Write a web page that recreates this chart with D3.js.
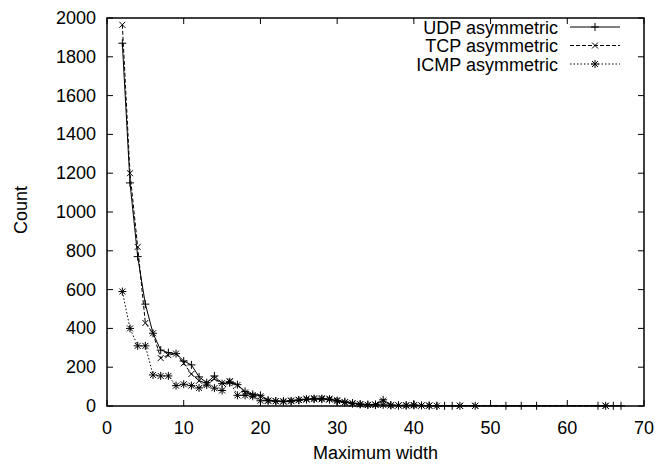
<!DOCTYPE html>
<html><head><meta charset="utf-8">
<script src="https://cdn.jsdelivr.net/npm/d3@7"></script>
<style>
body{margin:0;background:#fff;}
text{font-family:"Liberation Sans",Arial,Helvetica,sans-serif;}
</style></head>
<body><svg id="c" width="656" height="464"></svg>
<script>
const xTicks=[0,10,20,30,40,50,60,70];
const yTicks=[0,200,400,600,800,1000,1200,1400,1600,1800,2000];
const seriesNames=["UDP asymmetric","TCP asymmetric","ICMP asymmetric"];
const udpX=[2,3,4,5,6,7,8,9,10,11,12,13,14,15,16,17,18,19,20,21,22,23,24,25,26,27,28,29,30,31,32,33,34,35,36,37,38,39,40,42,43,44,45,52,54,56,64,66,67];
const udpY=[1870,1150,770,525,375,288,275,270,232,212,150,120,155,115,120,110,75,60,55,30,25,25,25,30,35,38,38,35,28,22,15,10,8,8,32,5,3,2,4,2,1,1,1,1,1,1,1,1,1];
const tcpX=[2,3,4,5,6,7,8,9,10,11,12,13,14,15,16,17,18,19,20,21,22,23,24,25,26,27,28,29,30,31,32,33,34,35,36,37,38,39,40,41,42,46,48,65];
const tcpY=[1965,1200,820,428,375,247,262,270,220,165,130,118,140,118,128,108,70,57,50,28,25,25,28,32,38,40,40,38,30,20,15,10,6,8,28,4,3,2,3,2,2,1,1,1];
const icmpX=[2,3,4,5,6,7,8,9,10,11,12,13,14,15,16,17,18,19,20,21,22,23,24,25,26,27,28,29,30,31,32,33,34,35,36,37,38,39,40,41,42,43,46,48,65];
const icmpY=[590,400,310,310,160,155,155,105,112,105,93,108,92,80,125,55,55,50,27,27,25,22,25,30,33,35,35,33,25,18,12,8,5,5,6,3,3,4,5,3,2,1,1,1,1];

const svg=d3.select("#c");
const L=107,R=644,T=18,B=406;
const x=d3.scaleLinear().domain([0,70]).range([L,R]);
const y=d3.scaleLinear().domain([0,2000]).range([B,T]);
const fs=18;

// ticks (inward, mirrored)
const tl=6;
const g=svg.append("g").attr("stroke","#000").attr("stroke-width",1);
xTicks.forEach(t=>{
  g.append("line").attr("x1",x(t)).attr("x2",x(t)).attr("y1",B).attr("y2",B-tl);
  g.append("line").attr("x1",x(t)).attr("x2",x(t)).attr("y1",T).attr("y2",T+tl);
});
yTicks.forEach(t=>{
  g.append("line").attr("x1",L).attr("x2",L+tl).attr("y1",y(t)).attr("y2",y(t));
  g.append("line").attr("x1",R).attr("x2",R-tl).attr("y1",y(t)).attr("y2",y(t));
});
// tick labels
svg.append("g").selectAll("text").data(xTicks).join("text")
  .attr("x",d=>x(d)).attr("y",434).attr("text-anchor","middle").attr("font-size",fs).text(d=>d);
svg.append("g").selectAll("text").data(yTicks).join("text")
  .attr("x",96).attr("y",d=>y(d)+6).attr("text-anchor","end").attr("font-size",fs).text(d=>d);
// axis labels
svg.append("text").attr("x",(L+R)/2).attr("y",459).attr("text-anchor","middle").attr("font-size",fs).text("Maximum width");
svg.append("text").attr("transform","translate(27,210) rotate(-90)").attr("text-anchor","middle").attr("font-size",fs).text("Count");

// markers
function marker(sel,type,cx,cy){
  const s=4;
  const p=sel.append("g").attr("stroke","#000").attr("stroke-width",1).attr("fill","none");
  if(type===0||type===2){
    p.append("line").attr("x1",cx-s).attr("x2",cx+s).attr("y1",cy).attr("y2",cy);
    p.append("line").attr("x1",cx).attr("x2",cx).attr("y1",cy-s).attr("y2",cy+s);
  }
  if(type===1||type===2){
    const d=3;
    p.append("line").attr("x1",cx-d).attr("x2",cx+d).attr("y1",cy-d).attr("y2",cy+d);
    p.append("line").attr("x1",cx-d).attr("x2",cx+d).attr("y1",cy+d).attr("y2",cy-d);
  }
}
const dashes=[null,"4,2","1.5,2"];
const series=[[udpX,udpY],[tcpX,tcpY],[icmpX,icmpY]];
const line=d3.line().x(d=>x(d[0])).y(d=>y(d[1]));
[2,1,0].forEach(i=>{
  const [xs,ys]=series[i];
  const pts=xs.map((v,k)=>[v,ys[k]]);
  svg.append("path").datum(pts).attr("d",line).attr("fill","none").attr("stroke","#000")
    .attr("stroke-width",1).attr("stroke-dasharray",dashes[i]);
  const mg=svg.append("g");
  pts.forEach(p=>marker(mg,i,x(p[0]),y(p[1])));
});

// legend
seriesNames.forEach((n,i)=>{
  const cy=27+i*18.5;
  svg.append("text").attr("x",558).attr("y",cy+6.5).attr("text-anchor","end").attr("font-size",fs).text(n);
  svg.append("line").attr("x1",570).attr("x2",620).attr("y1",cy).attr("y2",cy).attr("stroke","#000")
    .attr("stroke-width",1).attr("stroke-dasharray",dashes[i]);
  marker(svg,i,595,cy);
});

// border
svg.append("rect").attr("x",L).attr("y",T).attr("width",R-L).attr("height",B-T)
  .attr("fill","none").attr("stroke","#000").attr("stroke-width",1.5);
</script></body></html>
